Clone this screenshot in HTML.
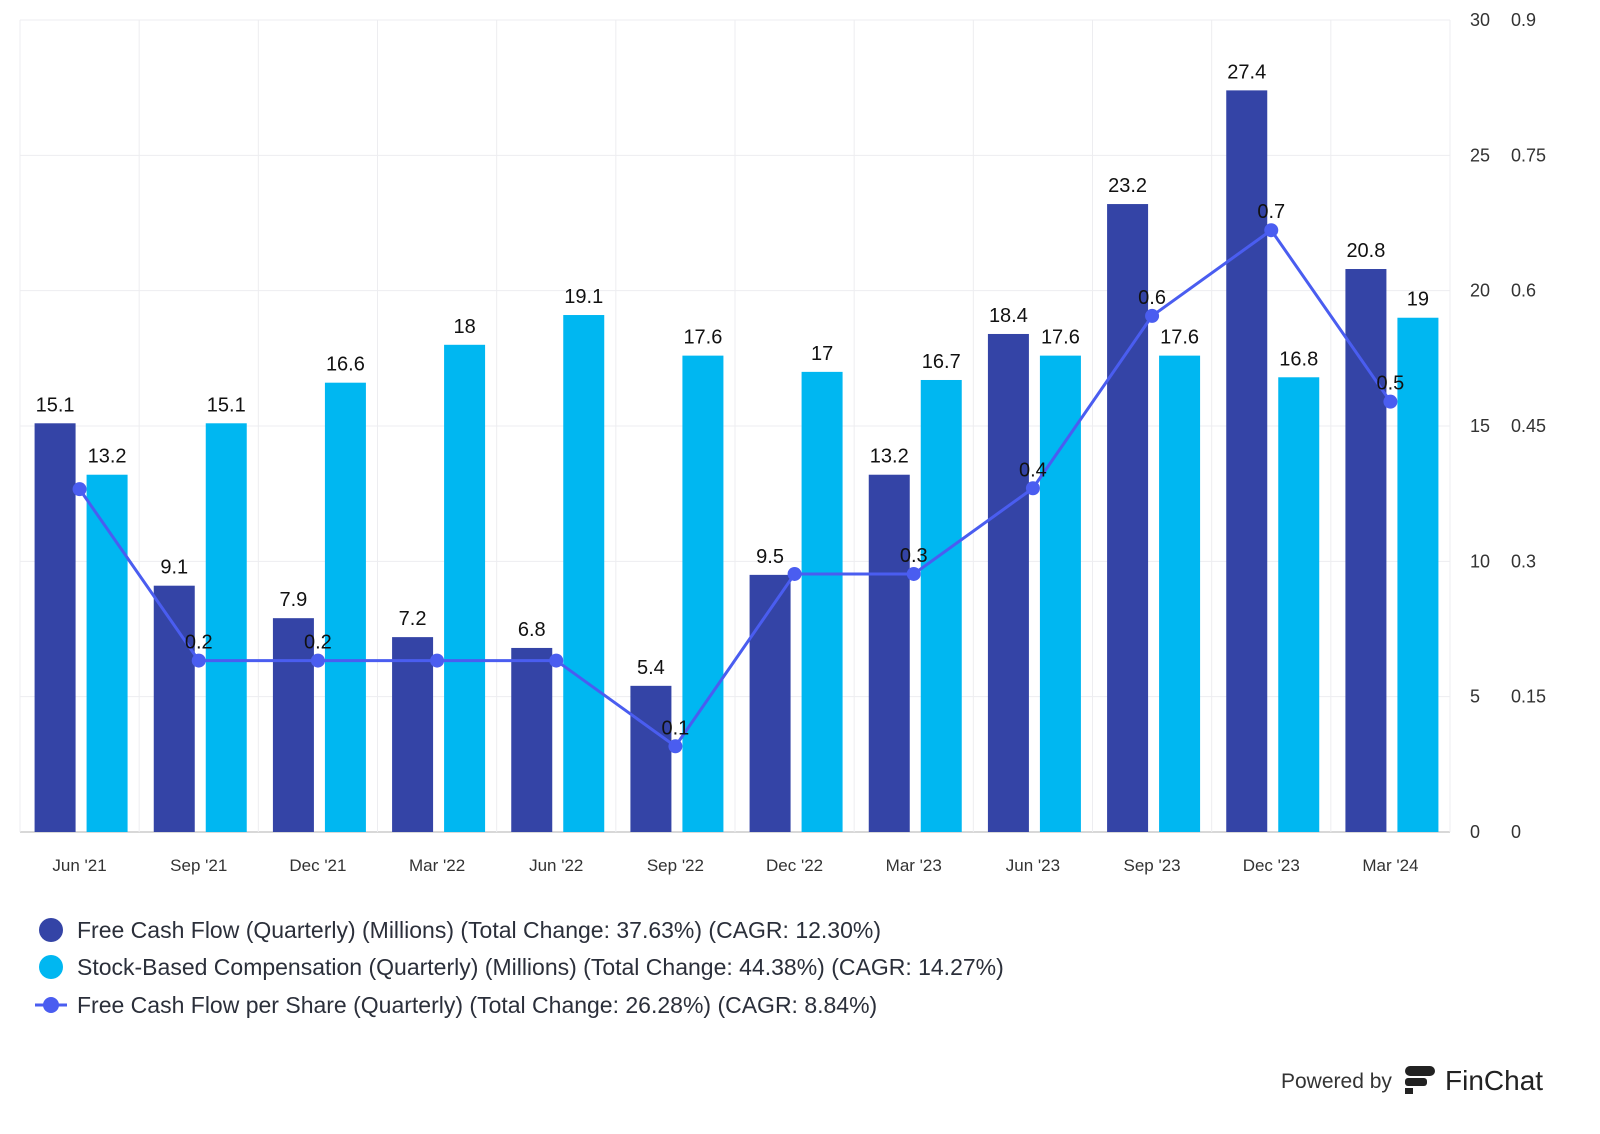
<!DOCTYPE html>
<html><head><meta charset="utf-8"><style>
body{margin:0;background:#fff;font-family:"Liberation Sans",sans-serif;}
svg{display:block}
</style></head><body>
<svg id="chart" width="1600" height="1134" xmlns="http://www.w3.org/2000/svg">
<g id="grid"></g>
<g id="bars"></g>
<g id="line"></g>
<g id="labels"></g>
<g id="axes"></g>
<g font-size="23" fill="#2b2f3a">
 <g><circle cx="51" cy="930" r="12" fill="#3444a6"/><text x="77" y="938">Free Cash Flow (Quarterly) (Millions) (Total Change: 37.63%) (CAGR: 12.30%)</text></g>
 <g><circle cx="51" cy="967" r="12" fill="#00b7f1"/><text x="77" y="975">Stock-Based Compensation (Quarterly) (Millions) (Total Change: 44.38%) (CAGR: 14.27%)</text></g>
 <g><line x1="35" y1="1005" x2="67" y2="1005" stroke="#4a5df0" stroke-width="3"/><circle cx="51" cy="1005" r="8" fill="#4a5df0"/><text x="77" y="1013">Free Cash Flow per Share (Quarterly) (Total Change: 26.28%) (CAGR: 8.84%)</text></g>
</g>
<g>
 <text x="1281" y="1088" font-size="21" fill="#333">Powered by</text>
 <rect x="1405" y="1066" width="30" height="10" rx="5" fill="#222"/>
 <rect x="1405" y="1078" width="22" height="8" rx="3" fill="#222"/>
 <rect x="1405" y="1088" width="8" height="6" fill="#222"/>
 <text x="1445" y="1090" font-size="28" fill="#222">FinChat</text>
</g>
</svg>
<script>
const categories=["Jun '21","Sep '21","Dec '21","Mar '22","Jun '22","Sep '22","Dec '22","Mar '23","Jun '23","Sep '23","Dec '23","Mar '24"];
const fcf=[15.1,9.1,7.9,7.2,6.8,5.4,9.5,13.2,18.4,23.2,27.4,20.8];
const sbc=[13.2,15.1,16.6,18,19.1,17.6,17,16.7,17.6,17.6,16.8,19];
const fcfPerShare=[0.38,0.19,0.19,0.19,0.19,0.095,0.286,0.286,0.381,0.572,0.667,0.477];
const fcfPerShareLabels=["","0.2","0.2","","","0.1","","0.3","0.4","0.6","0.7","0.5"];
const leftTicks=[0,5,10,15,20,25,30];
const rightTicks=["0","0.15","0.3","0.45","0.6","0.75","0.9"];

const NS="http://www.w3.org/2000/svg";
const X0=20,X1=1450,Y0=832,Y1=20;
const band=(X1-X0)/categories.length;
const cx=i=>X0+band*(i+0.5);
const yL=v=>Y0-(v/30)*(Y0-Y1);
const yR=v=>Y0-(v/0.9)*(Y0-Y1);
function mk(tag,attrs,parent){const e=document.createElementNS(NS,tag);for(const k in attrs)e.setAttribute(k,attrs[k]);parent.appendChild(e);return e;}
const grid=document.getElementById('grid'),bars=document.getElementById('bars'),line=document.getElementById('line'),labels=document.getElementById('labels'),axes=document.getElementById('axes');
leftTicks.forEach((t,i)=>{
  const y=yL(t);
  const g=mk('line',{x1:X0,x2:X1,y1:y,y2:y,stroke:i==0?'#ccc':'#ededf0','stroke-width':i==0?1.5:1},grid);
  
  
  const a=mk('text',{x:1470,y:y+6,'font-size':18,fill:'#333'},axes);a.textContent=t;
  
  
  const b=mk('text',{x:1511,y:y+6,'font-size':18,fill:'#333'},axes);b.textContent=rightTicks[i];
  
  
});
for(let i=0;i<=categories.length;i++){
  const x=X0+band*i;
  const v=mk('line',{x1:x,x2:x,y1:Y1,y2:Y0,stroke:'#ededf0'},grid);
  
  
}
categories.forEach((c,i)=>{
  const t=mk('text',{x:cx(i),y:871,'font-size':17,fill:'#333','text-anchor':'middle'},axes);t.textContent=c;
  
  
  const bx=cx(i)-45,sx=cx(i)+7,w=41;
  const r1=mk('rect',{x:bx,y:yL(fcf[i]),width:w,height:Y0-yL(fcf[i]),fill:'#3444a6'},bars);
  
  
  const r2=mk('rect',{x:sx,y:yL(sbc[i]),width:w,height:Y0-yL(sbc[i]),fill:'#00b7f1'},bars);
  
  
  const l1=mk('text',{x:bx+w/2,y:yL(fcf[i])-12,'font-size':20,fill:'#111','text-anchor':'middle'},labels);l1.textContent=fcf[i];
  
  
  const l2=mk('text',{x:sx+w/2,y:yL(sbc[i])-12,'font-size':20,fill:'#111','text-anchor':'middle'},labels);l2.textContent=sbc[i];
  
  
});
const pts=fcfPerShare.map((v,i)=>cx(i)+','+yR(v)).join(' ');
const pl=mk('polyline',{points:pts,fill:'none',stroke:'#4a5df0','stroke-width':3},line);


fcfPerShare.forEach((v,i)=>{
  const c=mk('circle',{cx:cx(i),cy:yR(v),r:7,fill:'#4a5df0'},line);
  
  
  const t=mk('text',{x:cx(i),y:yR(v)-12,'font-size':20,fill:'#111','text-anchor':'middle'},labels);t.textContent=fcfPerShareLabels[i];
  
  
});
</script>
</body></html>
